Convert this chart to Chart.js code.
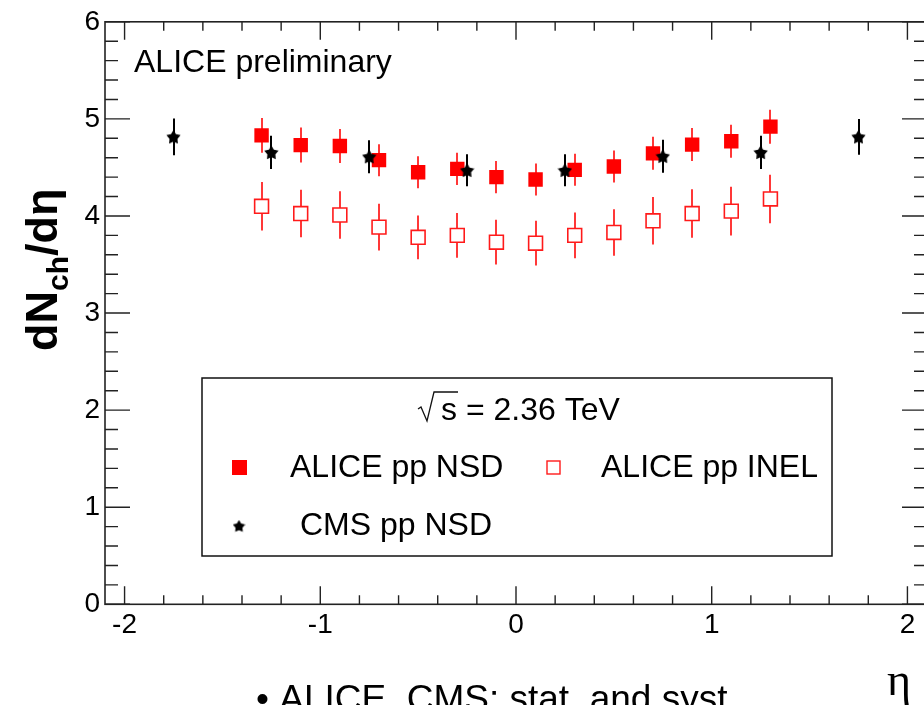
<!DOCTYPE html>
<html><head><meta charset="utf-8">
<script src="https://cdn.jsdelivr.net/npm/chart.js@4/dist/chart.umd.min.js"></script>
<style>
html,body{margin:0;padding:0;background:#fff;overflow:hidden;width:924px;height:705px;}
#wrap{position:absolute;left:0;top:0;width:940px;height:705px;}
canvas{display:block;}
</style></head><body>
<div id="wrap"><canvas id="c" width="940" height="705"></canvas></div>
<script>
// ---- data ----
const aliceEta = [-1.3,-1.1,-0.9,-0.7,-0.5,-0.3,-0.1,0.1,0.3,0.5,0.7,0.9,1.1,1.3];
const aliceNSD = [4.83,4.73,4.72,4.575,4.45,4.485,4.40,4.375,4.475,4.51,4.645,4.735,4.77,4.92];
const aliceNSDerr = [0.18,0.18,0.175,0.165,0.165,0.165,0.165,0.165,0.165,0.165,0.17,0.17,0.17,0.175];
const aliceINEL = [4.10,4.025,4.01,3.885,3.78,3.80,3.73,3.72,3.80,3.83,3.95,4.025,4.05,4.175];
const aliceINELerr = [0.25,0.245,0.245,0.24,0.225,0.23,0.23,0.23,0.235,0.24,0.245,0.25,0.25,0.25];
const cmsEta = [-1.75,-1.25,-0.75,-0.25,0.25,0.75,1.25,1.75];
const cmsNSD = [4.815,4.655,4.61,4.47,4.47,4.615,4.655,4.815];
const cmsNSDerr = [0.19,0.17,0.17,0.165,0.165,0.17,0.17,0.185];
const xTickValues = [-2,-1,0,1,2];
const yTickValues = [0,1,2,3,4,5,6];
const seriesLabels = ['ALICE pp NSD','ALICE pp INEL','CMS pp NSD'];

const FONT = '"Liberation Sans", Arial, Helvetica, sans-serif';
const AXIS_COLOR = '#222';

function makeStar(size, color){
  const c = document.createElement('canvas');
  c.width = size; c.height = size;
  const g = c.getContext('2d');
  g.fillStyle = color;
  g.beginPath();
  const cx = size/2, cy = size/2 + size*0.04, R = size/2, r = R*0.56;
  for (let i=0;i<10;i++){
    const a = -Math.PI/2 + i*Math.PI/5;
    const rr = (i%2) ? r : R;
    g.lineTo(cx + rr*Math.cos(a), cy + rr*Math.sin(a));
  }
  g.closePath(); g.fill();
  return c;
}
const starPt = makeStar(15,'#000');
const starLeg = makeStar(13,'#000');

function pts(xs, ys){ return xs.map((x,i)=>({x:x, y:ys[i]})); }

const errorBars = {
  id:'errorBars',
  beforeDatasetsDraw(chart){
    const ctx = chart.ctx, xs = chart.scales.x, ys = chart.scales.y;
    chart.data.datasets.forEach(ds=>{
      if(!ds.errors) return;
      ctx.save();
      ctx.strokeStyle = ds.errColor; ctx.lineWidth = 2;
      ds.data.forEach((p,i)=>{
        const px = Math.round(xs.getPixelForValue(p.x));
        ctx.beginPath();
        ctx.moveTo(px, ys.getPixelForValue(p.y - ds.errors[i]));
        ctx.lineTo(px, ys.getPixelForValue(p.y + ds.errors[i]));
        ctx.stroke();
      });
      ctx.restore();
    });
  }
};

const frame = {
  id:'frame',
  afterDatasetsDraw(chart){
    const ctx = chart.ctx, a = chart.chartArea, xs = chart.scales.x, ys = chart.scales.y;
    ctx.save();
    ctx.strokeStyle = AXIS_COLOR; ctx.lineWidth = 1.6;
    ctx.strokeRect(a.left, a.top, a.right-a.left, a.bottom-a.top);
    ctx.lineWidth = 1.4;
    ctx.beginPath();
    for (let k=-10;k<=10;k++){
      const v = k*0.2, px = xs.getPixelForValue(v);
      const L = (k%5===0) ? 18 : 9;
      ctx.moveTo(px, a.bottom); ctx.lineTo(px, a.bottom-L);
      ctx.moveTo(px, a.top); ctx.lineTo(px, a.top+L);
    }
    for (let k=0;k<=30;k++){
      const v = k*0.2, py = ys.getPixelForValue(v);
      const L = (k%5===0) ? 25 : 13;
      ctx.moveTo(a.left, py); ctx.lineTo(a.left+L, py);
      ctx.moveTo(a.right, py); ctx.lineTo(a.right-L, py);
    }
    ctx.stroke();
    ctx.restore();
  },
  afterDraw(chart){
    const ctx = chart.ctx;
    const ds = chart.data.datasets;
    ctx.save();
    ctx.fillStyle = '#000';
    ctx.textBaseline = 'alphabetic';
    // ALICE preliminary
    ctx.font = '32px ' + FONT;
    ctx.textAlign = 'left';
    ctx.fillText('ALICE preliminary', 134, 72);

    // Y title
    ctx.save();
    ctx.translate(57, 351);
    ctx.rotate(-Math.PI/2);
    let xpos = 0;
    ctx.font = 'bold 45px ' + FONT;
    ctx.fillText('dN', xpos, 0); xpos += ctx.measureText('dN').width;
    ctx.font = 'bold 30px ' + FONT;
    ctx.fillText('ch', xpos, 11); xpos += ctx.measureText('ch').width;
    ctx.font = 'bold 45px ' + FONT;
    ctx.fillText('/d\u03B7', xpos, 0);
    ctx.restore();

    // X title
    ctx.font = '46px "Liberation Serif", "Times New Roman", serif';
    ctx.fillText('\u03B7', 887, 695);

    // bottom note
    ctx.font = '37px ' + FONT;
    ctx.fillText('\u2022 ALICE, CMS: stat. and syst.', 256, 711);

    // Legend box
    ctx.strokeStyle = '#111'; ctx.lineWidth = 1.5;
    ctx.strokeRect(202, 378, 630, 178);
    ctx.font = '32px ' + FONT;
    // sqrt(s)
    ctx.lineWidth = 1.3;
    ctx.beginPath();
    ctx.moveTo(418, 409); ctx.lineTo(421, 407); ctx.lineTo(427, 421); ctx.lineTo(434, 392); ctx.lineTo(458, 392);
    ctx.stroke();
    ctx.fillText('s = 2.36 TeV', 441, 420);
    // row 2
    ctx.fillStyle = ds[0].backgroundColor;
    ctx.fillRect(232, 460, 15, 15);
    ctx.strokeStyle = ds[1].borderColor; ctx.lineWidth = 1.4;
    ctx.strokeRect(547, 461, 13, 13);
    ctx.drawImage(starLeg, 239-6.5, 526-6.5);
    ctx.fillStyle = '#000';
    ctx.fillText(ds[0].label, 290, 477);
    ctx.fillText(ds[1].label, 601, 477);
    ctx.fillText(ds[2].label, 300, 535);
    ctx.restore();
  }
};

new Chart(document.getElementById('c'), {
  type:'scatter',
  data:{
    datasets:[
      { label: seriesLabels[0], data: pts(aliceEta, aliceNSD), errors: aliceNSDerr, errColor:'#ff3838',
        pointStyle:'rect', pointRadius:10.2, backgroundColor:'#ff0000', borderWidth:0, order:1 },
      { label: seriesLabels[1], data: pts(aliceEta, aliceINEL), errors: aliceINELerr, errColor:'#ff3838',
        pointStyle:'rect', pointRadius:9.8, backgroundColor:'#ffffff', borderColor:'#ff1a1a', borderWidth:1.6, order:2 },
      { label: seriesLabels[2], data: pts(cmsEta, cmsNSD), errors: cmsNSDerr, errColor:'#000000',
        pointStyle: starPt, pointRadius:7, backgroundColor:'#000', order:0 }
    ]
  },
  options:{
    responsive:false, animation:false, events:[],
    layout:{ padding:{ left:0, top:20.7, right:13, bottom:0 } },
    plugins:{ legend:{display:false}, tooltip:{enabled:false}, title:{display:false} },
    scales:{
      x:{ type:'linear', position:'bottom', min:-2.1, max:2.1,
        grid:{display:false, drawTicks:false}, border:{display:false},
        afterBuildTicks: s => { s.ticks = xTickValues.map(v=>({value:v})); },
        afterFit: s => { s.height = 100.7; },
        ticks:{ color:'#000', font:{family:FONT, size:28}, padding:4, maxRotation:0, autoSkip:false,
          callback: v => String(v) } },
      y:{ type:'linear', position:'left', min:0, max:6,
        grid:{display:false, drawTicks:false}, border:{display:false},
        afterBuildTicks: s => { s.ticks = yTickValues.map(v=>({value:v})); },
        afterFit: s => { s.width = 105; },
        ticks:{ color:'#000', font:{family:FONT, size:28}, padding:5, autoSkip:false,
          callback: v => String(v) } }
    }
  },
  plugins:[errorBars, frame]
});
</script>
</body></html>
